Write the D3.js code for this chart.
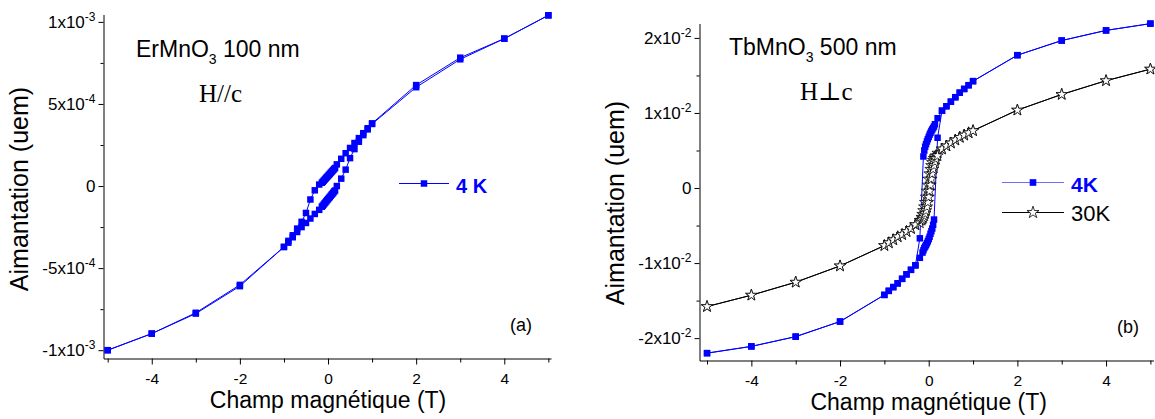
<!DOCTYPE html>
<html><head><meta charset="utf-8">
<script src="https://cdn.jsdelivr.net/npm/d3@7"></script>
<style>
body{margin:0;background:#fff}
svg{display:block}
</style>
</head><body>
<svg id="c" width="1155" height="419" font-family='"Liberation Sans",Arial,sans-serif'></svg>
<script>
// ---------- Panel (a): ErMnO3 100 nm, 4 K (M in units of 1e-3 uem) ----------
const aDescH = [5,4,3,2,1,0.9,0.8,0.7,0.6,0.5,0.4,0.3,0.2,0.16,0.14,0.12,0.10,0.08,0.06,0.04,0.02,0,-0.02,-0.04,-0.06,-0.08,-0.10,-0.12,-0.14,-0.2,-0.3,-0.4,-0.5,-0.6,-0.7,-0.8,-0.9,-1,-2,-3,-4,-5];
const aDescM = [1.04,0.898,0.782,0.615,0.382,0.352,0.322,0.292,0.262,0.232,0.200,0.166,0.132,0.110,0.104,0.098,0.092,0.086,0.080,0.074,0.068,0.062,0.056,0.050,0.044,0.038,0.032,0.026,0.020,0.009,-0.026,-0.082,-0.164,-0.218,-0.259,-0.300,-0.334,-0.371,-0.610,-0.777,-0.899,-1.0];
const aAscH = [-5,-4,-3,-2,-1,-0.9,-0.8,-0.7,-0.6,-0.5,-0.4,-0.3,-0.2,-0.14,-0.12,-0.10,-0.08,-0.06,-0.04,-0.02,0,0.02,0.04,0.06,0.08,0.10,0.12,0.14,0.16,0.2,0.3,0.4,0.5,0.6,0.7,0.8,0.9,1,2,3,4,5];
const aAscM = [-1.0,-0.899,-0.772,-0.602,-0.371,-0.345,-0.312,-0.280,-0.250,-0.225,-0.198,-0.170,-0.145,-0.126,-0.120,-0.113,-0.106,-0.100,-0.093,-0.086,-0.080,-0.073,-0.067,-0.060,-0.053,-0.047,-0.040,-0.033,-0.027,0.0,0.045,0.100,0.170,0.225,0.270,0.310,0.345,0.378,0.602,0.772,0.898,1.04];

// ---------- Panel (b): TbMnO3 500 nm (M in units of 1e-2 uem) ----------
const b4DescH = [5,4,3,2,1,0.9,0.8,0.7,0.6,0.5,0.4,0.3,0.2,0.14,0.12,0.10,0.08,0.06,0.04,0.02,0,-0.02,-0.04,-0.06,-0.08,-0.10,-0.12,-0.2,-0.3,-0.4,-0.5,-0.6,-0.7,-0.8,-0.9,-1,-2,-3,-4,-5];
const b4DescM = [2.19,2.10,1.965,1.77,1.424,1.37,1.32,1.27,1.21,1.15,1.09,1.03,0.93,0.85,0.82,0.80,0.78,0.76,0.735,0.71,0.68,0.65,0.62,0.585,0.55,0.50,0.42,-0.67,-1.03,-1.09,-1.15,-1.21,-1.27,-1.32,-1.37,-1.424,-1.779,-1.98,-2.11,-2.20];
const b4AscH = [-5,-4,-3,-2,-1,-0.9,-0.8,-0.7,-0.6,-0.5,-0.4,-0.3,-0.2,-0.14,-0.12,-0.10,-0.08,-0.06,-0.04,-0.02,0,0.02,0.04,0.06,0.08,0.10,0.12,0.2,0.3,0.4,0.5,0.6,0.7,0.8,0.9,1,2,3,4,5];
const b4AscM = [-2.20,-2.11,-1.98,-1.779,-1.424,-1.37,-1.32,-1.27,-1.21,-1.15,-1.09,-1.03,-0.93,-0.86,-0.83,-0.80,-0.78,-0.76,-0.735,-0.71,-0.68,-0.65,-0.61,-0.575,-0.54,-0.49,-0.42,0.67,1.03,1.09,1.15,1.21,1.27,1.32,1.37,1.424,1.77,1.965,2.10,2.19];
const b30DescH = [5,4,3,2,1,0.9,0.8,0.7,0.6,0.5,0.4,0.3,0.2,0.16,0.14,0.12,0.10,0.08,0.06,0.04,0.02,0,-0.02,-0.04,-0.06,-0.08,-0.10,-0.12,-0.14,-0.16,-0.2,-0.3,-0.4,-0.5,-0.6,-0.7,-0.8,-0.9,-1,-2,-3,-4,-5];
const b30DescM = [1.584,1.43,1.247,1.038,0.765,0.735,0.705,0.675,0.64,0.60,0.56,0.52,0.465,0.43,0.415,0.395,0.37,0.34,0.30,0.25,0.19,0.12,0.04,-0.04,-0.12,-0.19,-0.25,-0.30,-0.35,-0.39,-0.43,-0.49,-0.54,-0.58,-0.62,-0.65,-0.69,-0.73,-0.767,-1.038,-1.255,-1.428,-1.579];
const b30AscH = [-5,-4,-3,-2,-1,-0.9,-0.8,-0.7,-0.6,-0.5,-0.4,-0.3,-0.2,-0.16,-0.14,-0.12,-0.10,-0.08,-0.06,-0.04,-0.02,0,0.02,0.04,0.06,0.08,0.10,0.12,0.14,0.16,0.2,0.3,0.4,0.5,0.6,0.7,0.8,0.9,1,2,3,4,5];
const b30AscM = [-1.579,-1.428,-1.255,-1.038,-0.767,-0.73,-0.69,-0.65,-0.62,-0.58,-0.54,-0.49,-0.465,-0.43,-0.415,-0.395,-0.37,-0.34,-0.30,-0.25,-0.19,-0.12,-0.04,0.04,0.12,0.19,0.25,0.30,0.35,0.39,0.43,0.52,0.56,0.60,0.64,0.675,0.705,0.735,0.763,1.038,1.247,1.43,1.584];

// ---------- ticks ----------
const xMajor = [-4,-2,0,2,4];
const xMajorLabels = ["-4","-2","0","2","4"];
const xMinor = [-5,-3,-1,1,3,5];
const aYMajor = [-1,-0.5,0,0.5,1];
const aYMant = ["-1x10","-5x10","0","5x10","1x10"];
const aYExp  = ["-3","-4","","-4","-3"];
const aYMinor = [-0.75,-0.25,0.25,0.75];
const bYMajor = [-2,-1,0,1,2];
const bYMant = ["-2x10","-1x10","0","1x10","2x10"];
const bYExp  = ["-2","-2","","-2","-2"];
const bYMinor = [-1.5,-0.5,0.5,1.5];

const BLUE = "#0000ff";
const SANS = '"Liberation Sans",Arial,sans-serif';
const SERIF = '"Liberation Serif","DejaVu Serif","Times New Roman",serif';
const svg = d3.select("#c");
const zip = (h, m) => h.map((v, i) => [v, m[i]]);

function panel(cfg) {
  const g = svg.append("g");
  const x = d3.scaleLinear().domain(cfg.xDomain).range(cfg.xRange);
  const y = d3.scaleLinear().domain(cfg.yDomain).range(cfg.yRange);
  const x0 = cfg.xRange[0], y0 = cfg.yRange[0];

  // x axis
  const xa = g.append("g").attr("transform", `translate(0,${y0})`)
    .call(d3.axisBottom(x).tickValues(xMajor).tickSize(6).tickSizeOuter(0).tickPadding(8)
      .tickFormat((d, i) => xMajorLabels[i]));
  xa.selectAll("text").attr("font-size", 15.5).attr("fill", "#000").attr("font-family", SANS);
  g.append("g").attr("transform", `translate(0,${y0})`)
    .call(d3.axisBottom(x).tickValues(xMinor).tickSize(4).tickSizeOuter(0).tickFormat(""))
    .select(".domain").remove();

  // y axis
  g.append("g").attr("transform", `translate(${x0},0)`)
    .call(d3.axisLeft(y).tickValues(cfg.yMajor).tickSize(5).tickSizeOuter(0).tickFormat(""));
  g.append("g").attr("transform", `translate(${x0},0)`)
    .call(d3.axisLeft(y).tickValues(cfg.yMinor).tickSize(3).tickSizeOuter(0).tickFormat(""))
    .select(".domain").remove();
  g.selectAll(".domain, .tick line").attr("stroke", "#000").attr("stroke-width", 1);

  cfg.yMajor.forEach((v, i) => {
    const t = g.append("text").attr("x", x0 - 8).attr("y", y(v) + 6)
      .attr("text-anchor", "end").attr("font-size", 17).attr("fill", "#000");
    t.append("tspan").text(cfg.yMant[i]);
    if (cfg.yExp[i]) t.append("tspan").attr("font-size", 12).attr("dy", -7).text(cfg.yExp[i]);
  });

  // axis titles
  g.append("text").attr("x", x(0)).attr("y", cfg.xTitleY).attr("text-anchor", "middle")
    .attr("font-size", 23).text("Champ magnétique (T)");
  g.append("text").attr("transform", `translate(${cfg.yTitleX},${cfg.yTitleY}) rotate(-90)`)
    .attr("text-anchor", "middle").attr("font-size", 25).text("Aimantation (uem)");

  return {g, x, y};
}

function series(p, data, color, sym, size, fill, stroke, lw) {
  const line = d3.line().x(d => p.x(d[0])).y(d => p.y(d[1]));
  p.g.append("path").datum(data).attr("d", line).attr("fill", "none")
    .attr("stroke", color).attr("stroke-width", lw);
  p.g.append("g").selectAll("path").data(data).join("path")
    .attr("transform", d => `translate(${p.x(d[0])},${p.y(d[1])})`)
    .attr("d", d3.symbol(sym, size))
    .attr("fill", fill).attr("stroke", stroke).attr("stroke-width", stroke === "none" ? 0 : 0.8);
}

// ---------- Panel a ----------
const pa = panel({
  xDomain: [-5.095, 5.06], xRange: [103.5, 551],
  yDomain: [-1.0506, 1.045], yRange: [358.5, 14.5],
  yMajor: aYMajor, yMant: aYMant, yExp: aYExp, yMinor: aYMinor,
  xTitleY: 408, yTitleX: 28, yTitleY: 189
});
series(pa, zip(aDescH, aDescM).concat(zip(aAscH, aAscM)), BLUE, d3.symbolSquare, 42, BLUE, "none", 1);

// legend a
pa.g.append("line").attr("x1", 399).attr("x2", 449).attr("y1", 183.5).attr("y2", 183.5).attr("stroke", BLUE).attr("stroke-width", 1);
pa.g.append("path").attr("transform", "translate(424,183.5)").attr("d", d3.symbol(d3.symbolSquare, 42)).attr("fill", BLUE);
pa.g.append("text").attr("x", 456).attr("y", 192.5).attr("font-size", 20).attr("font-weight", "bold").attr("fill", BLUE).text("4 K");

// annotations a
const ta = pa.g.append("text").attr("x", 136).attr("y", 56.7).attr("font-size", 23);
ta.append("tspan").text("ErMnO");
ta.append("tspan").attr("font-size", 14).attr("dy", 7).text("3");
ta.append("tspan").attr("dy", -7).text(" 100 nm");
pa.g.append("text").attr("x", 199).attr("y", 101.7).attr("font-size", 25)
  .attr("font-family", SERIF).text("H//c");
pa.g.append("text").attr("x", 510).attr("y", 331).attr("font-size", 18).text("(a)");

// ---------- Panel b ----------
const pb = panel({
  xDomain: [-5.17, 5.07], xRange: [699.5, 1153.5],
  yDomain: [-2.298, 2.192], yRange: [360.5, 23.5],
  yMajor: bYMajor, yMant: bYMant, yExp: bYExp, yMinor: bYMinor,
  xTitleY: 410, yTitleX: 624, yTitleY: 203
});
series(pb, zip(b4DescH, b4DescM).concat(zip(b4AscH, b4AscM)), BLUE, d3.symbolSquare, 42, BLUE, "none", 1);
series(pb, zip(b30DescH, b30DescM).concat(zip(b30AscH, b30AscM)), "#000", d3.symbolStar, 40, "#fff", "#000", 1);

// legend b
pb.g.append("line").attr("x1", 1002).attr("x2", 1064).attr("y1", 182.5).attr("y2", 182.5).attr("stroke", "#6f6fff").attr("stroke-width", 1.2);
pb.g.append("path").attr("transform", "translate(1033,182.5)").attr("d", d3.symbol(d3.symbolSquare, 44)).attr("fill", BLUE);
pb.g.append("text").attr("x", 1071).attr("y", 191.5).attr("font-size", 21).attr("font-weight", "bold").attr("fill", BLUE).text("4K");
pb.g.append("line").attr("x1", 1002).attr("x2", 1064).attr("y1", 212.5).attr("y2", 212.5).attr("stroke", "#000").attr("stroke-width", 1);
pb.g.append("path").attr("transform", "translate(1033,212.5)").attr("d", d3.symbol(d3.symbolStar, 45)).attr("fill", "#fff").attr("stroke", "#000").attr("stroke-width", 0.8);
pb.g.append("text").attr("x", 1071).attr("y", 220.5).attr("font-size", 22).attr("fill", "#000").text("30K");

// annotations b
const tb = pb.g.append("text").attr("x", 729).attr("y", 55).attr("font-size", 23);
tb.append("tspan").text("TbMnO");
tb.append("tspan").attr("font-size", 14).attr("dy", 7).text("3");
tb.append("tspan").attr("dy", -7).text(" 500 nm");
pb.g.append("text").attr("x", 800).attr("y", 100).attr("font-size", 25)
  .attr("font-family", SERIF).text("H⊥c");
pb.g.append("text").attr("x", 1117).attr("y", 333).attr("font-size", 18).text("(b)");
</script>
</body></html>
